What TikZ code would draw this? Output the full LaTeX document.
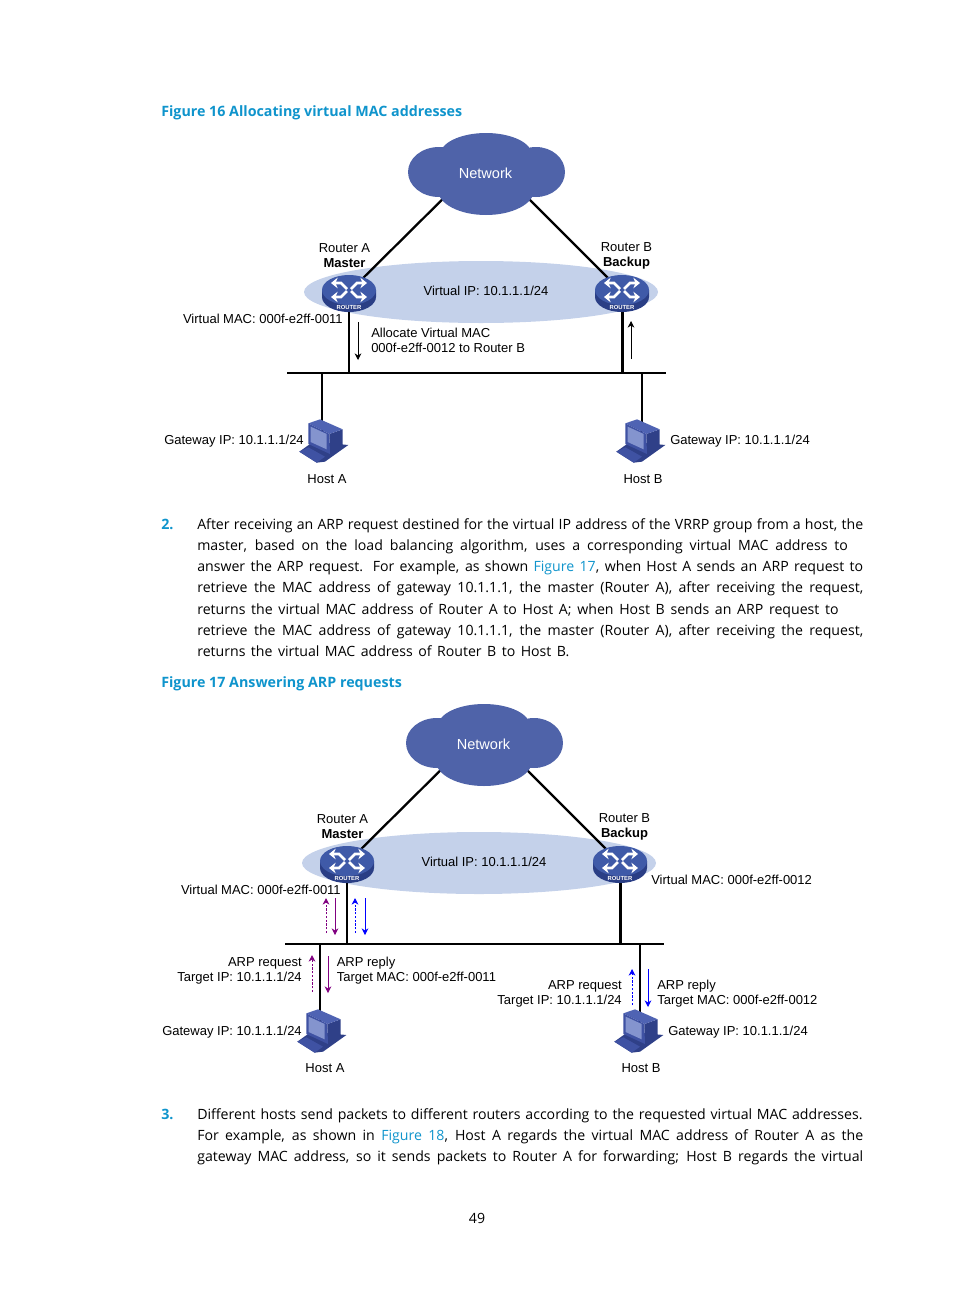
\documentclass[tikz,border=0pt]{standalone}
\usepackage{fontspec}
\setmainfont{Liberation Sans}
\newfontfamily\bodyfont{Open Sans}
\usetikzlibrary{arrows.meta}
\definecolor{linkblue}{HTML}{0F94CC}
\definecolor{cloudblue}{HTML}{4F63A9}
\definecolor{vipblue}{HTML}{C4D1EA}
\definecolor{routertop}{HTML}{3F5AA8}
\definecolor{routerside}{HTML}{2A3E85}
\definecolor{hostfront}{HTML}{3F52A3}
\definecolor{hosttop}{HTML}{4F63B3}
\definecolor{hostside}{HTML}{2F4088}
\definecolor{hostscreen}{HTML}{8494CE}
\definecolor{reqpurple}{HTML}{800080}
\tikzset{
  difflabel/.style={font=\fontsize{9.75}{11.25}\selectfont,inner sep=0pt,align=left},
  bodyline/.style={font=\bodyfont\fontsize{10.6}{12}\selectfont,anchor=base west,inner sep=0pt},
  headline/.style={font=\bodyfont\bfseries\fontsize{10.7}{12}\selectfont,text=linkblue,anchor=base west,inner sep=0pt},
  hubbox/.style={shape=rectangle,minimum width=40.5pt,minimum height=27pt,inner sep=0pt},
  pcbox/.style={shape=rectangle,minimum width=37pt,minimum height=32pt,inner sep=0pt},
  netline/.style={-,line width=1.7pt},
  busline/.style={-,line width=1.3pt},
  flowarrow/.style={-{Stealth[length=5pt,width=5pt]},line width=0.6pt},
  reqdash/.style={dash pattern=on 1.6pt off 1.2pt},
  pics/cloudicon/.style={code={
    \fill[cloudblue] (0,-17) ellipse [x radius=46,y radius=22];
    \fill[cloudblue] (-47,0) ellipse [x radius=31,y radius=25];
    \fill[cloudblue] (50,0) ellipse [x radius=29,y radius=25];
    \fill[cloudblue] (0,18) ellipse [x radius=48,y radius=25];
    \fill[cloudblue] (-30,-5) rectangle (30,10);
  }},
  pics/routericon/.style={code={
    \fill[routerside] (-27,-2) -- (-27,5) arc [start angle=180,end angle=0,x radius=27,y radius=15] -- (27,-2) -- cycle;
    \fill[routertop] (0,-2) ellipse [x radius=27,y radius=15];
    \foreach \sx/\sy in {1/1, -1/1, 1/-1, -1/-1} {
      \draw[white,line width=2pt,-{Stealth[length=5pt,width=8pt]}]
        (\sx*2,\sy*1-2) -- (\sx*8,\sy*7-2) -- (\sx*18,\sy*7-2);
    }
    \node[text=white,inner sep=0pt,font=\bfseries\fontsize{4.4}{4}\selectfont] at (0,15) {ROUTER};
  }},
  pics/hosticon/.style={code={
    \begin{scope}[shift={(-45,-32)},scale=1/3]
      \fill[hostside] (58,125) -- (100,95) -- (205,105) -- (135,155) -- (110,158) -- cycle;
      \fill[hostfront] (58,125) -- (85,112) -- (135,140) -- (110,158) -- cycle;
      \fill[hostside] (148,72) -- (188,58) -- (188,110) -- (150,132) -- cycle;
      \fill[hosttop] (85,40) -- (120,28) -- (188,58) -- (148,72) -- cycle;
      \fill[hostfront] (85,40) -- (148,72) -- (150,132) -- (85,102) -- cycle;
      \fill[hostscreen] (92,50) -- (140,72) -- (140,118) -- (92,96) -- cycle;
    \end{scope}
  }}
}
\begin{document}
\begin{tikzpicture}[x=0.75pt,y=-0.75pt]
\useasboundingbox (0,0) rectangle (954,1296);
%% text of the page
\foreach \linename/\y/\w/\txt in {
  bodya/529.5/499.5/{After receiving an ARP request destined for the virtual IP address of the VRRP group from a host, the},
  bodyb/550.5/488/{master, based on the load balancing algorithm, uses a corresponding virtual MAC address to},
  bodyc/571.5/499.5/{answer the ARP request. For example, as shown \textcolor{linkblue}{Figure 17}, when Host A sends an ARP request to},
  bodyd/592.5/499.5/{retrieve the MAC address of gateway 10.1.1.1, the master (Router A), after receiving the request,},
  bodye/614.5/481/{returns the virtual MAC address of Router A to Host A; when Host B sends an ARP request to},
  bodyf/635.5/499.5/{retrieve the MAC address of gateway 10.1.1.1, the master (Router A), after receiving the request,},
  bodyg/656.5/279/{returns the virtual MAC address of Router B to Host B.},
  bodyh/1119.5/499/{Different hosts send packets to different routers according to the requested virtual MAC addresses.},
  bodyi/1140.5/499.5/{For example, as shown in \textcolor{linkblue}{Figure 18}, Host A regards the virtual MAC address of Router A as the},
  bodyj/1161.5/499.5/{gateway MAC address, so it sends packets to Router A for forwarding; Host B regards the virtual}} {
  \node (\linename) at (197,\y) [bodyline] {\makebox[\w pt][s]{\txt}};
}
\node (numtwo) at (161,529.5) [headline] {2.};
\node (numthree) at (161,1119.5) [headline] {3.};
\node (headone) at (161,116) [headline] {Figure 16 Allocating virtual MAC addresses};
\node (headtwo) at (161,687) [headline] {Figure 17 Answering ARP requests};
\node (pagenum) at (477,1218) [font=\bodyfont\fontsize{10.6}{12}\selectfont,inner sep=0pt] {49};
%% the two networks
\foreach \fig/\dx/\dy/\hy in {one/0/0/0, two/-2/571/19} {
  \begin{scope}[shift={(\dx,\dy)}]
    \fill[vipblue] (481,292) ellipse [x radius=177,y radius=31];
    \node (cloud\fig) at (486,172) [inner sep=0pt] {};
    \node (routerA\fig) at (349,292) [hubbox] {};
    \node (routerB\fig) at (622,292) [hubbox] {};
    \node (hostA\fig) at (325,442+\hy) [pcbox] {};
    \node (hostB\fig) at (642,442+\hy) [pcbox] {};
    \coordinate (upleft\fig) at (472,170);
    \coordinate (upright\fig) at (500,170);
    \coordinate (busstart\fig) at (287,373);
    \coordinate (busend\fig) at (666,373);
    \coordinate (busrouterA\fig) at (349,373);
    \coordinate (busrouterB\fig) at (622.5,373);
    \coordinate (bushostA\fig) at (322,373);
    \coordinate (bushostB\fig) at (642,373);
    %% edges or lines
    \draw[netline] (upleft\fig) -- (routerA\fig.center);
    \draw[netline] (upright\fig) -- (routerB\fig.center);
    \draw[netline] (routerA\fig.center) -- (busrouterA\fig);
    \draw[netline] (busrouterB\fig |- routerB\fig.center) -- (busrouterB\fig);
    \draw[netline] (bushostA\fig) -- (bushostA\fig |- hostA\fig.center);
    \draw[netline] (bushostB\fig) -- (hostB\fig.center);
    \draw[busline] (busstart\fig) -- (busend\fig);
    %% icons
    \pic at (cloud\fig) {cloudicon};
    \pic at (routerA\fig) {routericon};
    \pic at (routerB\fig) {routericon};
    \pic at (hostA\fig) {hosticon};
    \pic at (hostB\fig) {hosticon};
    %% labels
    \node (netname\fig) at (485.5,173) [font=\fontsize{10.9}{12}\selectfont,text=white,inner sep=0pt] {Network};
    \node (viptext\fig) at (486,291) [difflabel] {Virtual IP: 10.1.1.1/24};
    \node (nameA\fig) at (344.5,255.5) [difflabel,align=center] {Router A\\\textbf{Master}};
    \node (nameB\fig) at (626.5,255.5) [difflabel,align=center] {Router B\\\textbf{Backup}};
    \node (macA\fig) at (343,318.5) [difflabel,anchor=east] {Virtual MAC: 000f-e2ff-0011};
    \node (gateA\fig) at (304,441+\hy*1.05) [difflabel,anchor=east] {Gateway IP: 10.1.1.1/24};
    \node (gateB\fig) at (670,441+\hy*1.05) [difflabel,anchor=west] {Gateway IP: 10.1.1.1/24};
    \node (labelA\fig) at (327,479+\hy*0.95) [difflabel] {Host A};
    \node (labelB\fig) at (643,479+\hy*0.95) [difflabel] {Host B};
  \end{scope}
}
%% labels of one figure only
\node (allocate) at (371,340.5) [difflabel,anchor=west] {Allocate Virtual MAC\\000f-e2ff-0012 to Router B};
\node (macBtwo) at (651,879.5) [difflabel,anchor=west] {Virtual MAC: 000f-e2ff-0012};
\node (requestA) at (302,970.5) [difflabel,anchor=east,align=right] {ARP request\\Target IP: 10.1.1.1/24};
\node (replyA) at (336.5,970.5) [difflabel,anchor=west] {ARP reply\\Target MAC: 000f-e2ff-0011};
\node (requestB) at (622,993.5) [difflabel,anchor=east,align=right] {ARP request\\Target IP: 10.1.1.1/24};
\node (replyB) at (657,993.5) [difflabel,anchor=west] {ARP reply\\Target MAC: 000f-e2ff-0012};
%% arrows
\foreach \arrowname/\x/\ya/\yb/\arrowcolor/\arrowdash in {
  alloc/358/322/360/black/solid, back/631/359/321/black/solid,
  reqa/326/933/898/reqpurple/reqdash, repa/335/898/935/reqpurple/solid,
  reqb/355/933/898/blue/reqdash, repb/365/898/935/blue/solid,
  reqc/312/992/955/reqpurple/reqdash, repc/328/956/993/reqpurple/solid,
  reqd/632/1005/969/blue/reqdash, repd/648/969/1007/blue/solid} {
  \coordinate (\arrowname start) at (\x,\ya);
  \coordinate (\arrowname end) at (\x,\yb);
  \draw[flowarrow,\arrowcolor,\arrowdash] (\arrowname start) -- (\arrowname end);
}
\end{tikzpicture}
\end{document}
